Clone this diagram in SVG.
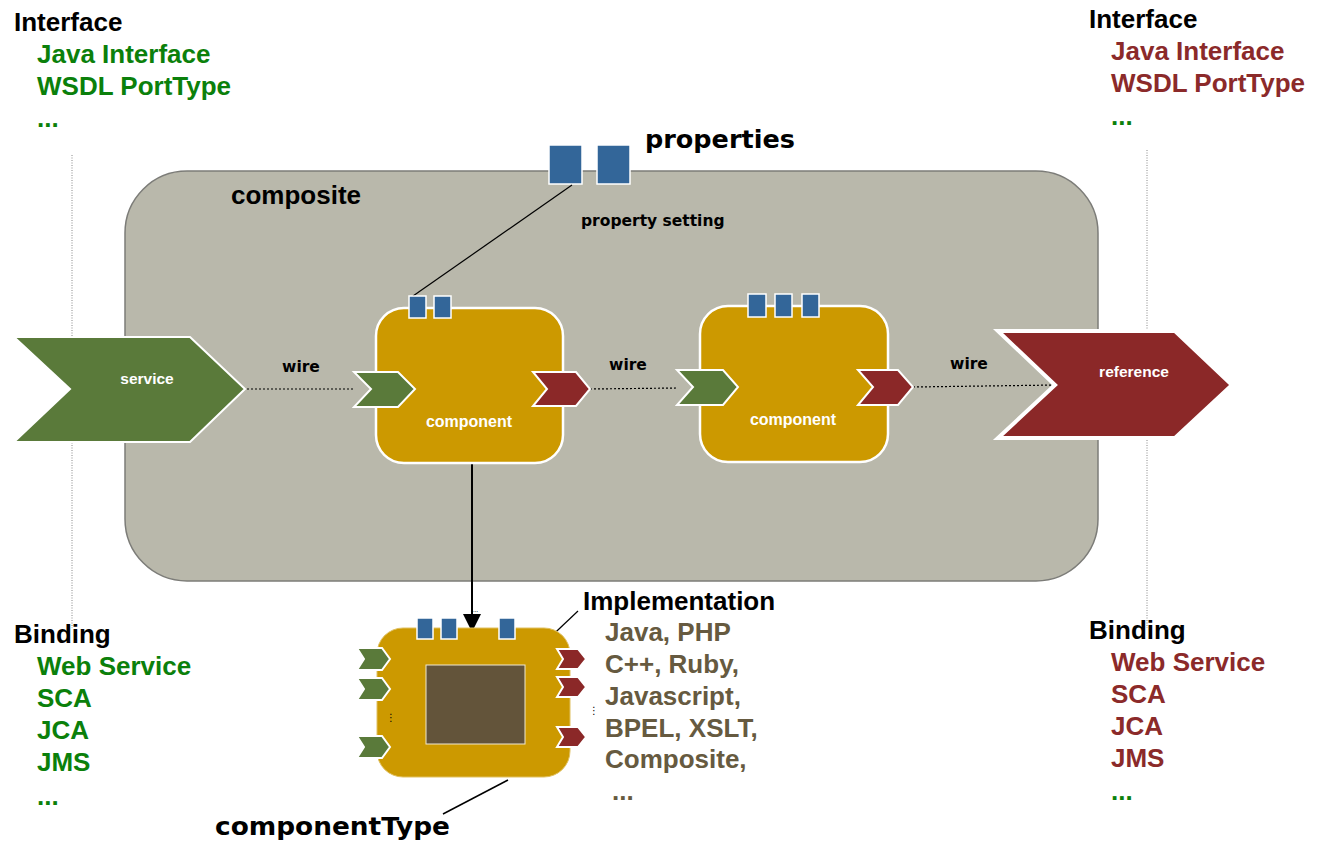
<svg xmlns="http://www.w3.org/2000/svg" width="1317" height="843" viewBox="0 0 1317 843">
<style>
.h{font-family:"Liberation Sans",Arial,sans-serif;font-weight:bold;font-size:26px;fill:#000}
.g{font-family:"Liberation Sans",Arial,sans-serif;font-weight:bold;font-size:26px;fill:#0b800b}
.r{font-family:"Liberation Sans",Arial,sans-serif;font-weight:bold;font-size:26px;fill:#8b2a2a}
.b{font-family:"Liberation Sans",Arial,sans-serif;font-weight:bold;font-size:26px;fill:#665a40}
.v{font-family:"DejaVu Sans",Verdana,sans-serif;font-weight:bold;fill:#000}
.w{font-family:"Liberation Sans",Arial,sans-serif;font-weight:bold;fill:#fff;text-anchor:middle}
.green{fill:#5a7a3a;stroke:#fff;stroke-width:2}
.red{fill:#8b2828;stroke:#fff;stroke-width:2}
.prop{fill:#336699;stroke:#fff;stroke-width:1.5}
.comp{fill:#cc9900;stroke:#fff;stroke-width:2.5}
.wire{stroke:#000;stroke-width:1.2;stroke-dasharray:2,2;fill:none}
.guide{stroke:#888;stroke-width:1;stroke-dasharray:1,1.5;fill:none}
</style>
<rect width="1317" height="843" fill="#fff"/>
<g id="guides">
<line class="guide" x1="72" y1="155" x2="72" y2="628"/>
<line class="guide" x1="1147" y1="150" x2="1147" y2="628"/>
</g>
<g id="composite">
<rect x="125" y="171" width="973" height="410" rx="62" ry="62" fill="#b9b8ab" stroke="#7c7c78" stroke-width="1.5"/>
<text class="h" x="231" y="204">composite</text>
</g>
<g id="properties">
<rect class="prop" x="549" y="145" width="33" height="39"/>
<rect class="prop" x="597" y="145" width="33" height="39"/>
<text class="v" x="645" y="148" font-size="25.5">properties</text>
<text class="v" x="581" y="226" font-size="15.5">property setting</text>
</g>
<g id="connectors">
<line class="wire" x1="247" y1="389" x2="355" y2="389"/>
<line class="wire" x1="590" y1="389" x2="678" y2="388"/>
<line class="wire" x1="913" y1="387" x2="1057" y2="385"/>
<line x1="572" y1="185" x2="413" y2="296" stroke="#000" stroke-width="1.2"/>
<line x1="472" y1="463" x2="472" y2="615" stroke="#000" stroke-width="2"/>
<polygon points="463,614 481,614 472,632" fill="#000"/>
<line x1="522" y1="664" x2="578" y2="611" stroke="#000" stroke-width="1.2"/>
<line x1="508" y1="780" x2="443" y2="814" stroke="#000" stroke-width="1.5"/>
<text class="v" x="301" y="372" font-size="15.5" text-anchor="middle">wire</text>
<text class="v" x="628" y="370" font-size="15.5" text-anchor="middle">wire</text>
<text class="v" x="969" y="369" font-size="15.5" text-anchor="middle">wire</text>
</g>
<g id="service">
<polygon class="green" stroke-width="3" points="14,337 190,337 245,389 190,442 14,442 70,389"/>
<text class="w" x="147" y="384" font-size="15.5">service</text>
</g>
<g id="component1">
<rect class="comp" x="376" y="308" width="187" height="155" rx="28" ry="28"/>
<rect class="prop" x="409" y="296" width="17" height="22"/>
<rect class="prop" x="434" y="296" width="17" height="22"/>
<polygon class="green" points="354,372 398,372 415,389 398,407 354,407 371,389"/>
<polygon class="red" points="533,372 576,372 590,389 576,406 533,406 547,389"/>
<text class="w" x="469" y="427" font-size="16">component</text>
</g>
<g id="component2">
<rect class="comp" x="700" y="306" width="188" height="156" rx="28" ry="28"/>
<rect class="prop" x="748" y="294" width="18" height="23"/>
<rect class="prop" x="775" y="294" width="17" height="23"/>
<rect class="prop" x="802" y="294" width="17" height="23"/>
<polygon class="green" points="677,370 723,370 738,387 723,405 677,405 693,387"/>
<polygon class="red" points="858,370 898,370 913,387 898,405 858,405 873,387"/>
<text class="w" x="793" y="425" font-size="16">component</text>
</g>
<g id="reference">
<polygon fill="#8b2828" stroke="#fff" stroke-width="4" points="998,331 1175,331 1232,385 1175,438 998,438 1055,385"/>
<text class="w" x="1134" y="377" font-size="15.5">reference</text>
</g>
<g id="componentType">
<rect x="377" y="628" width="193" height="149" rx="26" ry="26" fill="#cc9900" stroke="#e0c060" stroke-width="1"/>
<rect x="426" y="665" width="99" height="79" fill="#63543a" stroke="#f0e8d0" stroke-width="1"/>
<rect class="prop" x="417" y="618" width="16" height="21"/>
<rect class="prop" x="441" y="618" width="16" height="21"/>
<rect class="prop" x="499" y="618" width="16" height="21"/>
<polygon class="green" stroke-width="1.5" points="357,648 382,648 390,659 382,670 357,670 364,659"/>
<polygon class="green" stroke-width="1.5" points="357,678 382,678 390,689 382,700 357,700 364,689"/>
<polygon class="green" stroke-width="1.5" points="357,736 382,736 390,747 382,758 357,758 364,747"/>
<polygon class="red" stroke-width="1.5" points="557,649 578,649 586,659 578,669 557,669 563,659"/>
<polygon class="red" stroke-width="1.5" points="557,677 578,677 586,687 578,697 557,697 563,687"/>
<polygon class="red" stroke-width="1.5" points="557,727 578,727 586,737 578,747 557,747 563,737"/>
<text x="391" y="721" font-family="DejaVu Sans,sans-serif" font-size="10" text-anchor="middle" fill="#000">⋮</text>
<text x="594" y="714" font-family="DejaVu Sans,sans-serif" font-size="10" text-anchor="middle" fill="#000">⋮</text>
<text x="475" y="612" font-family="DejaVu Sans,sans-serif" font-size="7" text-anchor="middle" fill="#000">...</text>
<text class="v" x="215" y="835" font-size="25.5" textLength="235" lengthAdjust="spacingAndGlyphs">componentType</text>
</g>
<g id="implementation">
<text class="h" x="583" y="610">Implementation</text>
<text class="b" x="605" y="641">Java, PHP</text>
<text class="b" x="605" y="673">C++, Ruby,</text>
<text class="b" x="605" y="705">Javascript,</text>
<text class="b" x="605" y="737">BPEL, XSLT,</text>
<text class="b" x="605" y="768">Composite,</text>
<text class="b" x="612" y="800">...</text>
</g>
<g id="left-interface">
<text class="h" x="14" y="31">Interface</text>
<text class="g" x="37" y="63">Java Interface</text>
<text class="g" x="37" y="95">WSDL PortType</text>
<text class="g" x="37" y="127">...</text>
</g>
<g id="right-interface">
<text class="h" x="1089" y="28">Interface</text>
<text class="r" x="1111" y="60">Java Interface</text>
<text class="r" x="1111" y="92">WSDL PortType</text>
<text class="g" x="1111" y="125">...</text>
</g>
<g id="left-binding">
<text class="h" x="14" y="643">Binding</text>
<text class="g" x="37" y="675">Web Service</text>
<text class="g" x="37" y="707">SCA</text>
<text class="g" x="37" y="739">JCA</text>
<text class="g" x="37" y="771">JMS</text>
<text class="g" x="37" y="805">...</text>
</g>
<g id="right-binding">
<text class="h" x="1089" y="639">Binding</text>
<text class="r" x="1111" y="671">Web Service</text>
<text class="r" x="1111" y="703">SCA</text>
<text class="r" x="1111" y="735">JCA</text>
<text class="r" x="1111" y="767">JMS</text>
<text class="g" x="1111" y="800">...</text>
</g>
</svg>
